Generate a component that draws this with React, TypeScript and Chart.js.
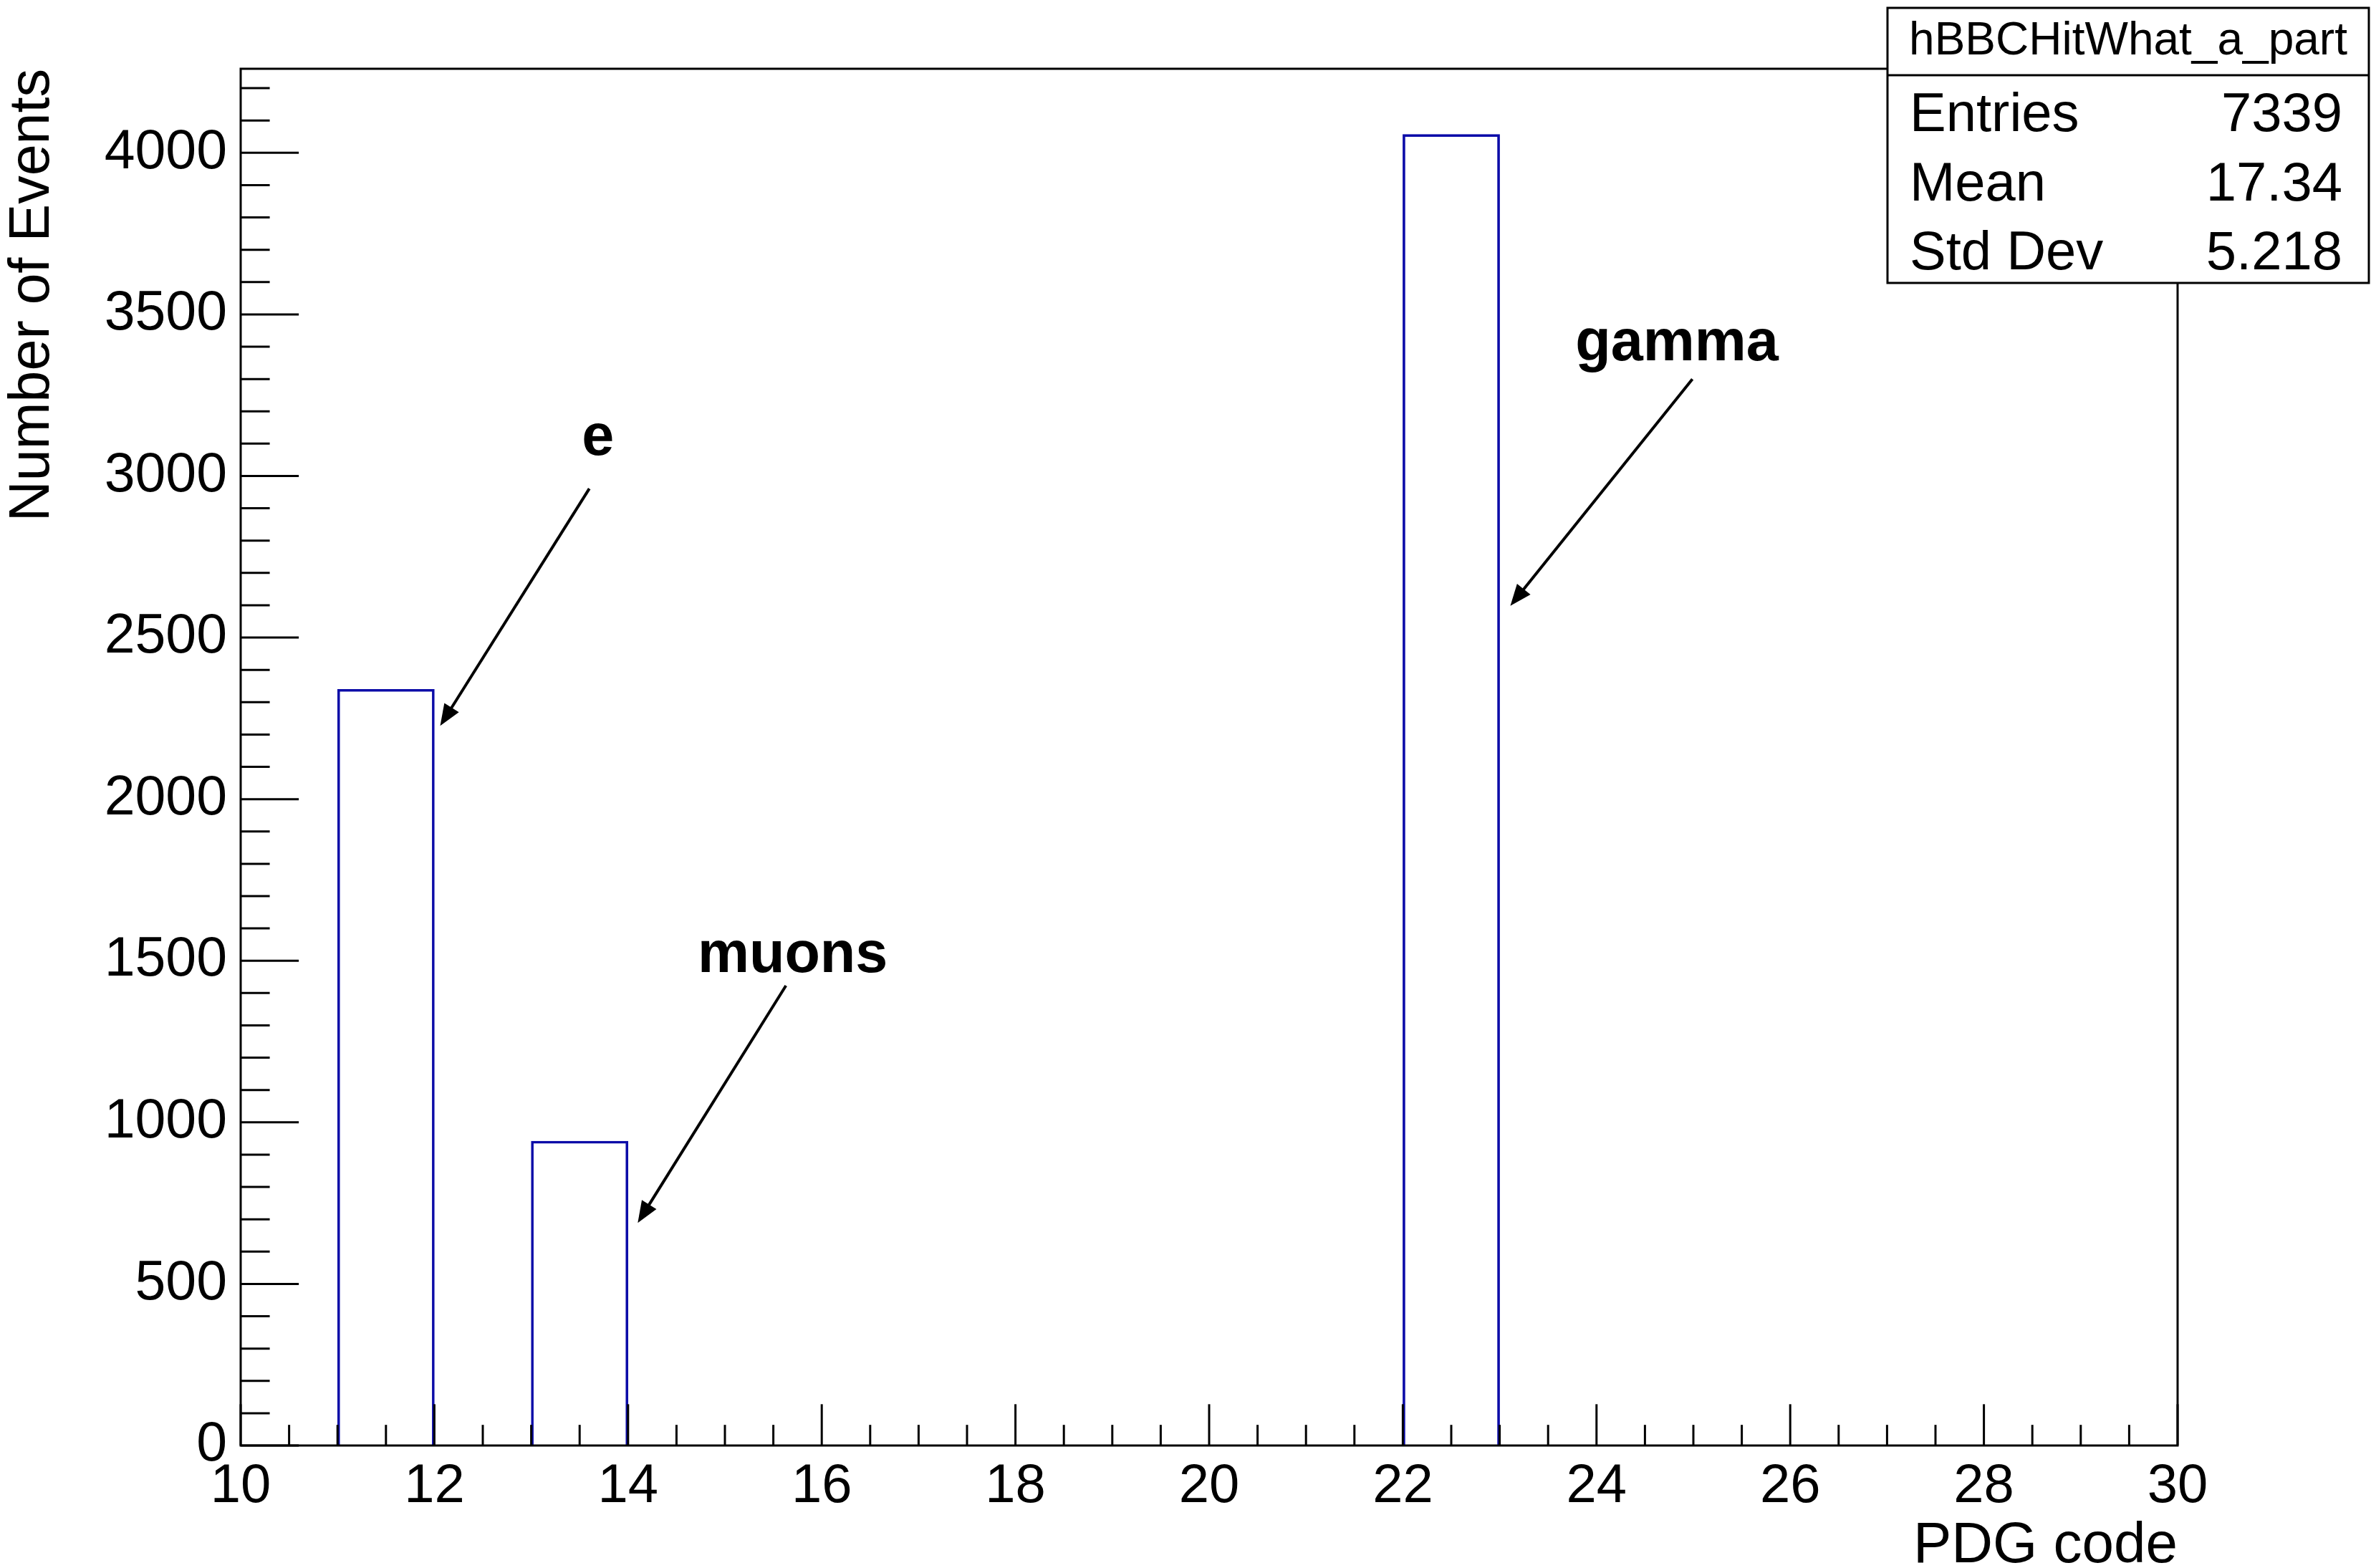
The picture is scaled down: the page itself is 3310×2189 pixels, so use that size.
import React, { useEffect, useRef } from 'react';
import { Chart, registerables } from 'chart.js';

Chart.register(...registerables);

// ---- data ----
const binCenters = [10.5, 11.5, 12.5, 13.5, 14.5, 15.5, 16.5, 17.5, 18.5, 19.5, 20.5, 21.5, 22.5, 23.5, 24.5, 25.5, 26.5, 27.5, 28.5, 29.5];
const counts = [0, 2340, 0, 942, 0, 0, 0, 0, 0, 0, 0, 0, 4057, 0, 0, 0, 0, 0, 0, 0];
const xTickValues = [10, 12, 14, 16, 18, 20, 22, 24, 26, 28, 30];
const yTickValues = [0, 500, 1000, 1500, 2000, 2500, 3000, 3500, 4000];
const xMin = 10;
const xMax = 30;
const yMax = 4260;

const statsTitle = 'hBBCHitWhat_a_part';
const statsLabels = ['Entries', 'Mean', 'Std Dev'];
const statsValues = ['7339', '17.34', '5.218'];

const annotationLabels = ['e', 'muons', 'gamma'];
const labelX = [13.69, 15.7, 24.83];
const labelY = [3065, 1465, 3358];
const arrowFromX = [13.6, 15.63, 24.99];
const arrowFromY = [2961, 1423, 3300];
const arrowToX = [12.06, 14.1, 23.11];
const arrowToY = [2227, 689, 2598];

const FONT = '"Liberation Sans", Arial, Helvetica, sans-serif';
const HIST_COLOR = '#0c0ca8';

const rootPlugin = {
  id: 'rootStyle',
  afterDatasetsDraw(chart: any) {
    const ctx: CanvasRenderingContext2D = chart.ctx;
    const { left, right, top, bottom } = chart.chartArea;
    const xs = chart.scales.x;
    const ys = chart.scales.y;
    ctx.save();
    ctx.strokeStyle = '#000';
    ctx.lineWidth = 3;
    ctx.lineCap = 'butt';
    const w = right - left;
    const h = bottom - top;
    // y ticks (inward): major every 500, minor every 100
    for (let k = 0; k * 100 <= yMax; k++) {
      const py = ys.getPixelForValue(k * 100);
      const len = k % 5 === 0 ? 0.03 * w : 0.015 * w;
      ctx.beginPath();
      ctx.moveTo(left, py);
      ctx.lineTo(left + len, py);
      ctx.stroke();
    }
    // x ticks (inward): major every 2, minor every 0.5
    for (let k = 0; xMin + k * 0.5 <= xMax; k++) {
      const px = xs.getPixelForValue(xMin + k * 0.5);
      const len = k % 4 === 0 ? 0.03 * h : 0.015 * h;
      ctx.beginPath();
      ctx.moveTo(px, bottom);
      ctx.lineTo(px, bottom - len);
      ctx.stroke();
    }
    // frame
    ctx.strokeRect(left, top, right - left, bottom - top);

    // annotations
    ctx.fillStyle = '#000';
    ctx.font = `bold 81px ${FONT}`;
    ctx.textAlign = 'center';
    ctx.textBaseline = 'alphabetic';
    for (let i = 0; i < annotationLabels.length; i++) {
      ctx.fillText(annotationLabels[i], xs.getPixelForValue(labelX[i]), ys.getPixelForValue(labelY[i]));
      const x0 = xs.getPixelForValue(arrowFromX[i]);
      const y0 = ys.getPixelForValue(arrowFromY[i]);
      const x1 = xs.getPixelForValue(arrowToX[i]);
      const y1 = ys.getPixelForValue(arrowToY[i]);
      const dx = x1 - x0;
      const dy = y1 - y0;
      const L = Math.hypot(dx, dy);
      const ux = dx / L;
      const uy = dy / L;
      const headLen = 30;
      const headHalf = 12;
      const bx = x1 - ux * headLen;
      const by = y1 - uy * headLen;
      ctx.lineWidth = 4;
      ctx.beginPath();
      ctx.moveTo(x0, y0);
      ctx.lineTo(bx + ux * 4, by + uy * 4);
      ctx.stroke();
      ctx.beginPath();
      ctx.moveTo(x1, y1);
      ctx.lineTo(bx - uy * headHalf, by + ux * headHalf);
      ctx.lineTo(bx + uy * headHalf, by - ux * headHalf);
      ctx.closePath();
      ctx.fill();
    }
    ctx.restore();
  },
  afterDraw(chart: any) {
    const ctx: CanvasRenderingContext2D = chart.ctx;
    const bx0 = 2635;
    const by0 = 11;
    const bx1 = 3307;
    const by1 = 395;
    ctx.save();
    ctx.fillStyle = '#fff';
    ctx.fillRect(bx0, by0, bx1 - bx0, by1 - by0);
    ctx.strokeStyle = '#000';
    ctx.lineWidth = 3;
    ctx.strokeRect(bx0, by0, bx1 - bx0, by1 - by0);
    ctx.beginPath();
    ctx.moveTo(bx0, 105);
    ctx.lineTo(bx1, 105);
    ctx.stroke();
    ctx.fillStyle = '#000';
    ctx.textBaseline = 'alphabetic';
    ctx.font = `64px ${FONT}`;
    ctx.textAlign = 'center';
    ctx.fillText(statsTitle, (bx0 + bx1) / 2, 76);
    ctx.font = `76px ${FONT}`;
    const baselines = [183, 280, 376];
    for (let i = 0; i < statsLabels.length; i++) {
      ctx.textAlign = 'left';
      ctx.fillText(statsLabels[i], 2666, baselines[i]);
      ctx.textAlign = 'right';
      ctx.fillText(statsValues[i], 3270, baselines[i]);
    }
    ctx.restore();
  },
};

export default function App() {
  const ref = useRef<HTMLCanvasElement>(null);
  useEffect(() => {
    document.body.style.margin = '0';
    document.body.style.background = '#fff';
    const canvas = ref.current!;
    const chart = new Chart(canvas, {
      type: 'bar',
      data: {
        datasets: [
          {
            data: binCenters.map((x, i) => ({ x, y: counts[i] })),
            borderColor: HIST_COLOR,
            backgroundColor: 'rgba(0,0,0,0)',
            borderWidth: 3,
            borderSkipped: 'bottom',
            barPercentage: 1,
            categoryPercentage: 1,
          } as any,
        ],
      },
      options: {
        responsive: false,
        animation: false,
        devicePixelRatio: 1,
        layout: { padding: { top: 96, right: 270, left: 0, bottom: 0 } },
        plugins: {
          legend: { display: false },
          tooltip: { enabled: false },
          title: { display: false },
        },
        scales: {
          x: {
            type: 'linear',
            min: xMin,
            max: xMax,
            offset: false,
            grid: { display: false, drawTicks: false, offset: false },
            border: { display: false },
            afterBuildTicks: (s: any) => {
              s.ticks = xTickValues.map((v) => ({ value: v }));
            },
            ticks: {
              autoSkip: false,
              maxRotation: 0,
              padding: 12,
              color: '#000',
              font: { family: FONT, size: 76 },
              callback: (v: any) => String(v),
            },
            title: {
              display: true,
              text: 'PDG code',
              align: 'end',
              color: '#000',
              padding: 0,
              font: { family: FONT, size: 80, lineHeight: 0.75 },
            },
            afterFit: (s: any) => {
              s.height = 171;
            },
          },
          y: {
            type: 'linear',
            min: 0,
            max: yMax,
            grid: { display: false, drawTicks: false },
            border: { display: false },
            afterBuildTicks: (s: any) => {
              s.ticks = yTickValues.map((v) => ({ value: v }));
            },
            ticks: {
              autoSkip: false,
              padding: 19,
              color: '#000',
              font: { family: FONT, size: 77 },
              callback: (v: any) => String(v),
            },
            title: {
              display: true,
              text: 'Number of Events',
              align: 'end',
              color: '#000',
              padding: 0,
              font: { family: FONT, size: 79, lineHeight: 1.17 },
            },
            afterFit: (s: any) => {
              s.width = 336;
            },
          },
        },
      } as any,
      plugins: [rootPlugin],
    });
    return () => chart.destroy();
  }, []);
  return <canvas ref={ref} width={3310} height={2189} style={{ display: 'block' }} />;
}
